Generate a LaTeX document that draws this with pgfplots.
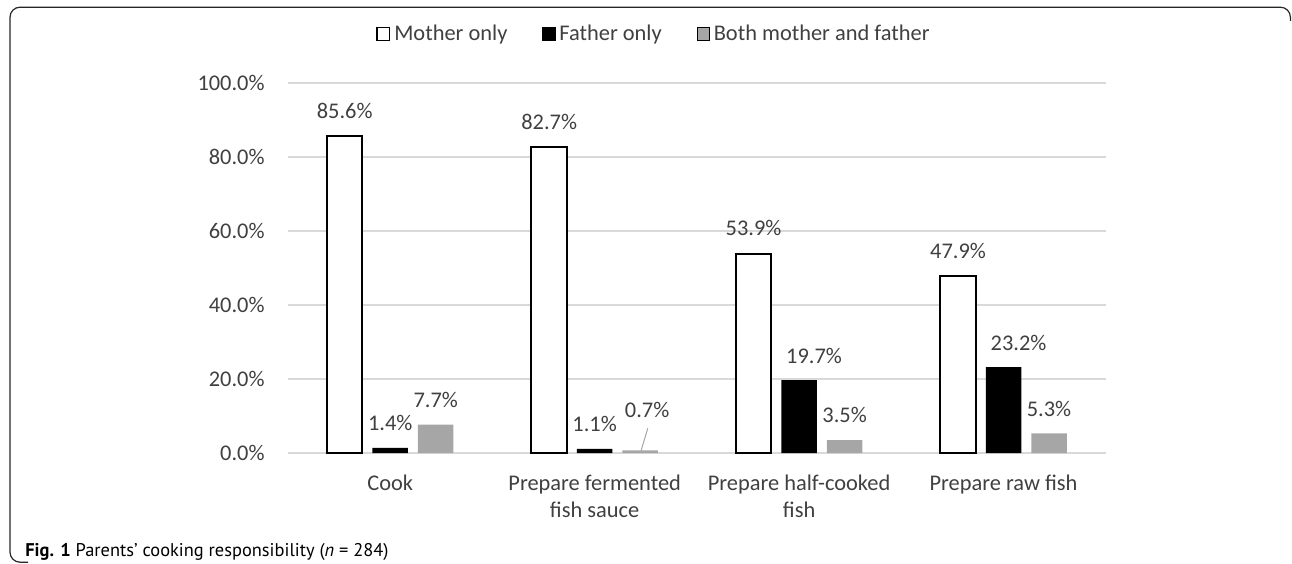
\documentclass[border=0pt]{standalone}
\usepackage{fontspec}
\setmainfont{Carlito}
\newfontfamily\capfont{PT Sans}
\usepackage{pgfplots}
\pgfplotsset{compat=1.18}
\definecolor{labelgray}{RGB}{64,64,64}
\definecolor{gridgray}{RGB}{217,217,217}
\definecolor{bargray}{RGB}{166,166,166}
\newcommand{\chartfont}{\fontsize{11.2pt}{13.5pt}\selectfont}
\begin{document}
\begin{tikzpicture}
\draw[line width=0.6pt, black!85, rounded corners=5pt] (645.2pt,271pt) -- (645.2pt,277.9pt) -- (5pt,277.9pt) -- (5pt,0.4pt) -- (14pt,0.4pt);
\begin{axis}[
  at={(144pt,55pt)}, anchor=south west,
  scale only axis, width=408.875pt, height=185pt,
  xmin=-0.5, xmax=3.5, ymin=0, ymax=100,
  ybar=5pt, bar width=17.75pt,
  xtick={0,1,2,3},
  xticklabels={Cook, {Prepare fermented\\fish sauce}, {Prepare half-cooked\\fish}, Prepare raw fish},
  ytick={0,20,40,60,80,100},
  yticklabel={\pgfmathprintnumber[fixed, fixed zerofill, precision=1]{\tick}\%},
  /pgf/number format/assume math mode=true,
  ymajorgrids, grid style={gridgray, line width=0.8pt},
  axis line style={draw=none},
  major tick length=0pt,
  tick style={draw=none},
  ticklabel style={font=\chartfont, text=labelgray},
  yticklabel style={anchor=east, inner sep=0pt, xshift=-11.5pt},
  xticklabel style={anchor=north, inner sep=0pt, yshift=-10.8pt, align=center},
  legend columns=-1,
  legend style={at={(0.4463,1.1324)}, anchor=center, draw=none, fill=none, font=\chartfont, text=labelgray, inner sep=0pt, nodes={inner sep=0pt}, /tikz/every even column/.append style={column sep=17.5pt}},
  sqlegend/.style={legend image code/.code={\draw[##1, line width=0.6pt] (0pt,-3.1pt) rectangle (6.2pt,3.1pt); \path (8.2pt,0pt);}},
  every node near coord/.append style={font=\chartfont, text=labelgray, inner sep=0pt, yshift=8.25pt},
  nodelbl/.style={point meta=y, nodes near coords={\pgfmathprintnumber[fixed, fixed zerofill, precision=1]{\pgfplotspointmeta}\%}},
]
\addplot[fill=white, draw=black, line width=1pt, nodelbl, sqlegend]
  coordinates {(0,85.6) (1,82.7) (2,53.9) (3,47.9)};
\addlegendentry{Mother only}
\addplot[fill=black, draw=none, nodelbl, sqlegend,
  visualization depends on={x \as \myxb},
  every node near coord/.append style={xshift={(\myxb>1.5)*7.5pt}}]
  coordinates {(0,1.4) (1,1.1) (2,19.7) (3,23.2)};
\addlegendentry{Father only}
\addplot[fill=bargray, draw=none, nodelbl, sqlegend,
  visualization depends on={x \as \myx},
  every node near coord/.append style={xshift={(\myx==1)*3.5pt}, yshift={(\myx==1)*7.75pt}}]
  coordinates {(0,7.7) (1,0.7) (2,3.5) (3,5.3)};
\addlegendentry{Both mother and father}
\draw[black!35, line width=0.5pt] (axis cs:1.227,0.6) -- (axis cs:1.26,6.7);
\end{axis}
\node[anchor=base west, inner sep=0pt, font=\capfont\fontsize{9.2pt}{11pt}\selectfont] at (12.5pt,3pt) {\textbf{Fig. 1} Parents’ cooking responsibility (\textit{n} = 284)};
\pgfresetboundingbox
\path[use as bounding box] (0,0) rectangle (646pt,281.5pt);
\end{tikzpicture}
\end{document}
